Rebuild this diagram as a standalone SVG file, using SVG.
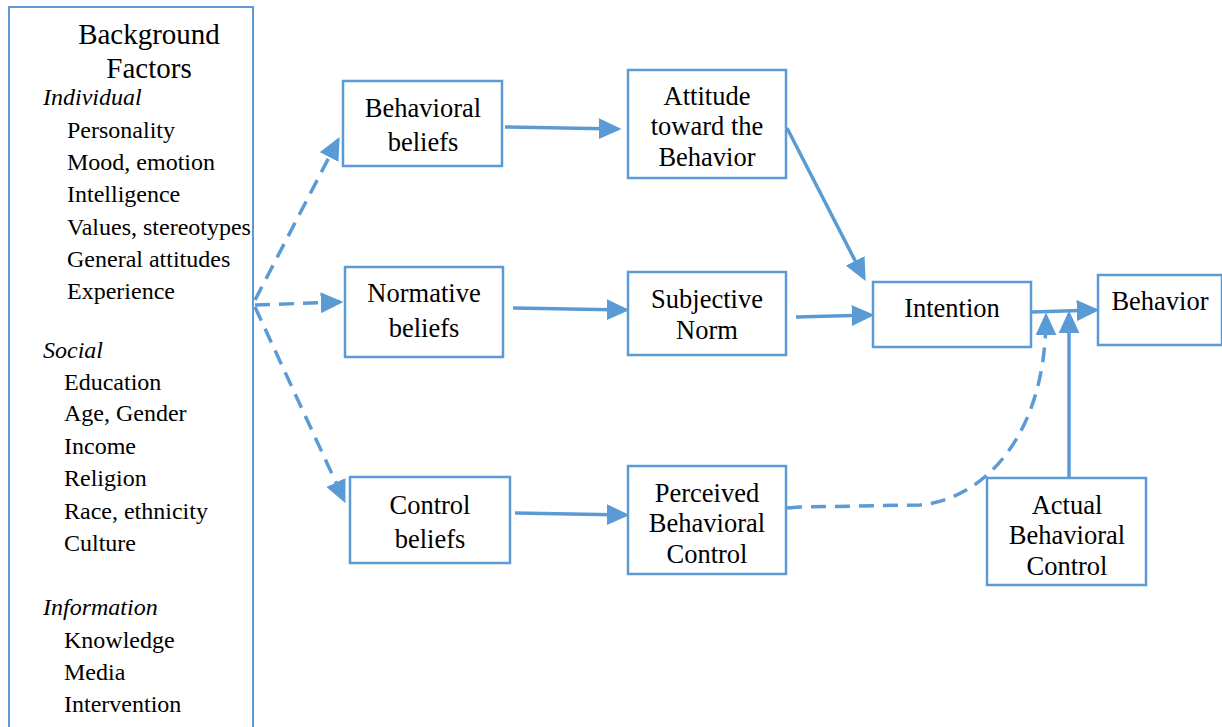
<svg xmlns="http://www.w3.org/2000/svg" width="1222" height="727" viewBox="0 0 1222 727">
<style>
.box{fill:#fff;stroke:#5B9BD5;stroke-width:2.5}
.t{font-family:"Liberation Serif","Times New Roman",serif;font-size:26.5px;fill:#000;text-anchor:middle}
.l{font-family:"Liberation Serif","Times New Roman",serif;font-size:24px;fill:#000}
.i{font-style:italic}
.c{fill:none;stroke:#5B9BD5;stroke-width:3.5}
.d{stroke-dasharray:15 9}
</style>
<defs>
<marker id="ah" markerWidth="6.5" markerHeight="6" refX="5.5" refY="3" orient="auto" markerUnits="strokeWidth">
<path d="M0,0 L6.5,3 L0,6 Z" fill="#5B9BD5"/>
</marker>
</defs>
<rect width="1222" height="727" fill="#fff"/>
<g id="background-factors">
<rect class="box" x="9" y="7" width="244" height="730" style="stroke-width:2"/>
<text class="t" x="149" y="44" style="font-size:29px">Background</text>
<text class="t" x="149" y="78" style="font-size:29px">Factors</text>
<text class="l i" x="43" y="105">Individual</text>
<text class="l" x="67" y="138">Personality</text>
<text class="l" x="67" y="170">Mood, emotion</text>
<text class="l" x="67" y="202">Intelligence</text>
<text class="l" x="67" y="235">Values, stereotypes</text>
<text class="l" x="67" y="267">General attitudes</text>
<text class="l" x="67" y="299">Experience</text>
<text class="l i" x="43" y="358">Social</text>
<text class="l" x="64" y="390">Education</text>
<text class="l" x="64" y="421">Age, Gender</text>
<text class="l" x="64" y="454">Income</text>
<text class="l" x="64" y="486">Religion</text>
<text class="l" x="64" y="519">Race, ethnicity</text>
<text class="l" x="64" y="551">Culture</text>
<text class="l i" x="43" y="615">Information</text>
<text class="l" x="64" y="648">Knowledge</text>
<text class="l" x="64" y="680">Media</text>
<text class="l" x="64" y="712">Intervention</text>
</g>
<g id="connectors">
<path class="c d" d="M255,300 L338,140" marker-end="url(#ah)"/>
<path class="c d" d="M255,305 L340,302" marker-end="url(#ah)"/>
<path class="c d" d="M255,307 L344,500" marker-end="url(#ah)"/>
<path class="c" d="M505,127 L618,129" marker-end="url(#ah)"/>
<path class="c" d="M513,308 L626,310" marker-end="url(#ah)"/>
<path class="c" d="M515,513 L626,515" marker-end="url(#ah)"/>
<path class="c" d="M787,128 L864,278" marker-end="url(#ah)"/>
<path class="c" d="M796,317 L871,315" marker-end="url(#ah)"/>
<path class="c" d="M1032,312 L1096,310" marker-end="url(#ah)"/>
<path class="c" d="M1069,478 L1069,314" marker-end="url(#ah)"/>
<path class="c d" d="M787,508 L800,507 L920,505 C980,500 1046,440 1046,316" marker-end="url(#ah)"/>
</g>
<g id="behavioral-beliefs">
<rect class="box" x="343" y="81" width="159" height="85"/>
<text class="t" x="423" y="117">Behavioral</text>
<text class="t" x="423" y="151">beliefs</text>
</g>
<g id="normative-beliefs">
<rect class="box" x="345" y="267" width="158" height="90"/>
<text class="t" x="424" y="302">Normative</text>
<text class="t" x="424" y="337">beliefs</text>
</g>
<g id="control-beliefs">
<rect class="box" x="350" y="477" width="160" height="86"/>
<text class="t" x="430" y="514">Control</text>
<text class="t" x="430" y="548">beliefs</text>
</g>
<g id="attitude">
<rect class="box" x="628" y="70" width="158" height="108"/>
<text class="t" x="707" y="105">Attitude</text>
<text class="t" x="707" y="135">toward the</text>
<text class="t" x="707" y="166">Behavior</text>
</g>
<g id="subjective-norm">
<rect class="box" x="628" y="272" width="158" height="83"/>
<text class="t" x="707" y="308">Subjective</text>
<text class="t" x="707" y="339">Norm</text>
</g>
<g id="perceived-behavioral-control">
<rect class="box" x="628" y="466" width="158" height="108"/>
<text class="t" x="707" y="502">Perceived</text>
<text class="t" x="707" y="532">Behavioral</text>
<text class="t" x="707" y="563">Control</text>
</g>
<g id="intention">
<rect class="box" x="873" y="282" width="158" height="65"/>
<text class="t" x="952" y="317">Intention</text>
</g>
<g id="behavior">
<rect class="box" x="1098" y="275" width="124" height="70"/>
<text class="t" x="1160" y="310">Behavior</text>
</g>
<g id="actual-behavioral-control">
<rect class="box" x="987" y="478" width="159" height="107"/>
<text class="t" x="1067" y="514">Actual</text>
<text class="t" x="1067" y="544">Behavioral</text>
<text class="t" x="1067" y="575">Control</text>
</g>
</svg>
